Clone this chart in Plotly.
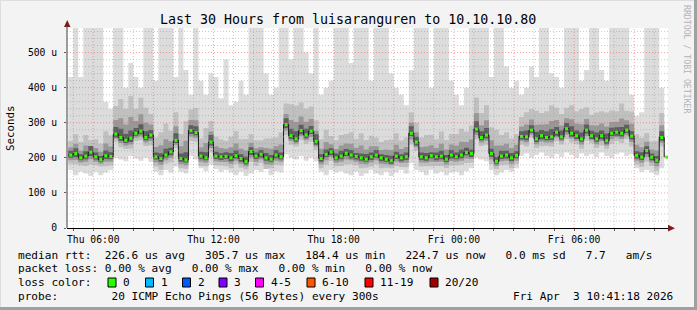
import plotly.graph_objects as go
import pandas as pd

# ---------------- data ----------------
start = "2026-04-02 04:45"
step = "15min"

median_rtt = [208,212,200,205,216,203,195,206,204,268,
              258,250,256,270,276,258,265,203,198,208,
              217,250,198,194,278,272,205,200,245,205,
              203,204,200,206,198,189,218,205,210,200,
              196,208,203,295,263,254,278,265,276,247,
              198,210,217,200,205,213,208,204,200,196,
              203,208,200,196,192,205,200,203,270,245,
              203,200,206,203,205,196,208,203,208,215,
              212,282,258,265,212,190,205,208,200,207,
              261,260,279,254,263,258,260,273,260,283,
              270,263,254,279,263,254,263,249,270,273,
              270,279,262,207,202,221,202,193,258,202]

smoke_max = [430,575,430,575,575,575,575,360,340,575,
             575,400,470,430,400,575,575,420,575,575,
             575,430,575,450,380,575,420,380,440,430,
             370,480,350,360,420,380,575,575,575,440,
             380,400,575,575,480,575,575,500,440,575,
             380,400,420,575,575,575,470,575,575,575,
             420,575,575,575,440,400,380,350,450,575,
             575,575,400,575,575,575,420,380,350,400,
             575,575,575,575,430,575,575,460,400,420,
             380,400,460,430,575,575,440,430,400,575,
             575,575,420,450,575,575,450,420,575,575,
             575,575,380,320,330,575,575,575,400,310]

smoke_min = [165,150,160,155,148,160,150,158,165,200,
             195,190,205,198,192,200,188,160,150,165,
             158,175,160,155,205,195,170,162,180,168,
             160,165,158,150,160,148,155,165,160,170,
             150,162,158,210,200,195,205,192,200,190,
             160,150,165,158,162,155,150,160,148,155,
             165,155,150,160,148,158,165,155,185,165,
             160,150,165,155,160,150,158,160,150,162,
             170,200,195,190,165,150,158,165,160,170,
             205,212,200,208,215,205,200,210,202,215,
             208,200,212,205,210,202,215,205,200,210,
             215,205,210,170,160,165,158,150,170,165]

mid_up = [40,55,45,60,35,50,45,70,60,80,
          110,90,120,70,95,85,60,55,75,90,
          60,80,70,110,60,70,50,85,60,55,
          50,45,60,70,55,65,50,45,40,55,
          60,50,70,60,90,95,80,75,70,60,
          55,70,45,50,60,55,65,50,70,55,
          60,50,45,55,60,65,50,55,60,55,
          55,65,60,50,70,55,60,65,75,60,
          80,90,70,85,75,90,60,65,55,60,
          55,70,60,80,65,75,90,70,65,60,
          80,70,85,65,60,75,70,80,65,60,
          85,55,70,60,55,50,45,55,70,50]

mid_dn = [25,30,22,28,35,24,20,30,26,22,
          28,25,30,22,26,24,30,28,32,25,
          30,22,28,25,30,26,28,24,30,26,
          25,28,30,24,26,22,30,28,25,32,
          26,28,24,30,26,22,28,25,30,24,
          28,30,26,24,28,32,26,25,30,24,
          28,26,30,24,22,28,26,30,32,25,
          28,24,30,26,28,25,30,24,28,30,
          26,30,24,28,30,22,26,28,30,25,
          24,28,22,26,30,24,28,26,22,30,
          26,24,28,30,22,26,28,24,30,26,
          28,25,30,26,28,32,25,30,26,28]

inner_up = [22,28,20,30,18,25,22,35,28,40,
            55,45,60,35,48,42,30,28,38,45,
            30,40,35,55,30,35,25,42,30,28,
            25,22,30,35,28,32,25,22,20,28,
            30,25,35,30,45,48,40,38,35,30,
            28,35,22,25,30,28,32,25,35,28,
            30,25,22,28,30,32,25,28,30,28,
            28,32,30,25,35,28,30,32,38,30,
            40,45,35,42,38,45,30,32,28,30,
            28,35,30,40,32,38,45,35,32,30,
            40,35,42,32,30,38,35,40,32,30,
            42,28,35,30,28,25,22,28,35,25]

inner_dn = [15,18,13,16,20,14,12,17,15,13,
            16,15,18,13,15,14,17,16,18,15,
            17,13,16,15,17,15,16,14,17,15,
            15,16,17,14,15,13,17,16,15,18,
            15,16,14,17,15,13,16,15,17,14,
            16,17,15,14,16,18,15,15,17,14,
            16,15,17,14,13,16,15,17,18,15,
            16,14,17,15,16,15,17,14,16,17,
            15,17,14,16,17,13,15,16,17,15,
            14,16,13,15,17,14,16,15,13,17,
            15,14,16,17,13,15,16,14,17,15,
            16,15,17,15,16,18,15,17,15,16]

core_up = [12,15,10,14,18,12,10,15,12,20,
           25,18,22,15,20,18,14,12,15,18,
           12,20,14,22,15,18,12,16,20,12,
           10,12,14,15,12,14,12,10,12,14,
           12,14,12,18,20,22,16,18,15,20,
           12,14,10,12,15,12,14,10,12,15,
           12,14,10,12,14,12,10,12,20,15,
           12,14,10,12,15,12,14,12,15,14,
           12,22,18,20,14,12,15,12,14,12,
           15,18,14,20,16,18,22,15,18,16,
           20,15,18,16,14,18,15,20,16,14,
           18,15,14,12,14,12,10,12,18,12]

core_dn = [8,10,7,9,11,8,6,9,8,10,
           9,8,11,7,9,8,10,8,9,7,
           10,8,9,7,10,8,9,7,10,8,
           9,7,10,8,9,7,10,8,9,8,
           7,9,8,10,9,8,11,9,8,10,
           9,8,10,7,9,8,10,9,8,7,
           9,8,10,7,9,8,10,9,8,10,
           9,8,7,10,9,8,10,7,9,8,
           10,9,8,10,9,7,8,10,9,8,
           9,10,8,9,11,8,9,10,8,9,
           10,9,8,10,9,8,10,9,8,10,
           9,8,10,9,8,10,9,8,9,8]

y_ticks = [0, 100, 200, 300, 400, 500]
y_ticktext = ["0", "100 u", "200 u", "300 u", "400 u", "500 u"]
x_ticks = ["2026-04-02 06:00", "2026-04-02 12:00", "2026-04-02 18:00",
           "2026-04-03 00:00", "2026-04-03 06:00"]
x_ticktext = ["Thu 06:00", "Thu 12:00", "Thu 18:00", "Fri 00:00", "Fri 06:00"]
x_range = ["2026-04-02 04:41:18", "2026-04-03 10:41:18"]
y_max = 570

title = "Last 30 Hours from luisaranguren to 10.10.10.80"
line_rtt = "median rtt:  226.6 us avg   305.7 us max   184.4 us min   224.7 us now   0.0 ms sd   7.7   am/s"
line_loss = "packet loss: 0.00 % avg   0.00 % max   0.00 % min   0.00 % now"
loss_head = "loss color:"
loss_labels = ["0", "1", "2", "3", "4-5", "6-10", "11-19", "20/20"]
loss_colors = ["#26ff00", "#00b8ff", "#0059ff", "#7e00ff", "#ff00ff", "#ff5500", "#ff0000", "#a10000"]
probe_text = "probe:        20 ICMP Echo Pings (56 Bytes) every 300s"
stamp_text = "Fri Apr  3 10:41:18 2026"

# ---------------- geometry ----------------
W, H = 697, 310
L, R, T, B = 67, 29, 28, 82
PW, PH = W - L - R, H - T - B


def px(x):
    return (x - L) / PW


def py(y):
    return (H - B - y) / PH


def nb(s):
    return s.replace(" ", "\u00a0")


MONO = "DejaVu Sans Mono"
times = pd.date_range(start, periods=len(median_rtt), freq=step)
centers = times + pd.Timedelta(minutes=7.5)

fig = go.Figure()


def band(lo, hi, color):
    fig.add_trace(go.Scatter(x=times, y=lo, mode="lines", line=dict(width=0, shape="hv"),
                             hoverinfo="skip", showlegend=False))
    fig.add_trace(go.Scatter(x=times, y=hi, mode="lines", line=dict(width=0, shape="hv"),
                             fill="tonexty", fillcolor=color, hoverinfo="skip", showlegend=False))


def around(up, dn):
    return ([m - d for m, d in zip(median_rtt, dn)], [m + u for m, u in zip(median_rtt, up)])


band(smoke_min, smoke_max, "#dcdcdc")
band(*around(mid_up, mid_dn), "#c0c0c0")
band(*around(inner_up, inner_dn), "#989898")
band(*around(core_up, core_dn), "#5e5e5e")

fig.add_trace(go.Scatter(x=times, y=median_rtt, mode="lines",
                         line=dict(color="#1a1a1a", width=1, shape="hv"), showlegend=False))
fig.add_trace(go.Scatter(x=centers, y=median_rtt, mode="markers",
                         marker=dict(symbol="square", size=3, color="#33ff00", line=dict(width=0)),
                         showlegend=False))

shapes = []
# grid on top (rrdtool style)
hours = pd.date_range("2026-04-02 05:00", "2026-04-03 10:00", freq="1h")
for hr in hours:
    major = hr.hour % 3 == 0
    shapes.append(dict(type="line", xref="x", yref="paper", x0=hr, x1=hr, y0=0, y1=1, layer="above",
                       line=dict(color="rgba(255,80,80,0.55)" if major else "rgba(150,150,150,0.5)",
                                 width=1, dash="1px,2px")))
for v in range(20, y_max, 20):
    major = v % 100 == 0
    shapes.append(dict(type="line", xref="paper", yref="y", x0=0, x1=1, y0=v, y1=v, layer="above",
                       line=dict(color="rgba(255,80,80,0.55)" if major else "rgba(150,150,150,0.5)",
                                 width=1, dash="1px,2px")))

# axis arrows
arrow = "#7f1d1d"
shapes.append(dict(type="path", xref="paper", yref="paper", layer="above",
                   path=f"M {px(64)},{py(27)} L {px(70.5)},{py(27)} L {px(67.2)},{py(20)} Z",
                   fillcolor=arrow, line=dict(width=0)))
shapes.append(dict(type="path", xref="paper", yref="paper", layer="above",
                   path=f"M {px(668)},{py(224.8)} L {px(668)},{py(231.5)} L {px(675)},{py(228.2)} Z",
                   fillcolor=arrow, line=dict(width=0)))
shapes.append(dict(type="line", xref="paper", yref="paper", layer="above",
                   x0=px(67), x1=px(67), y0=py(228), y1=py(26), line=dict(color="#404040", width=1)))

# frame
shapes.append(dict(type="line", xref="paper", yref="paper", x0=px(0), x1=px(697), y0=py(0.5), y1=py(0.5),
                   line=dict(color="#dddddd", width=1)))
shapes.append(dict(type="line", xref="paper", yref="paper", x0=px(0.5), x1=px(0.5), y0=py(0), y1=py(310),
                   line=dict(color="#dddddd", width=1)))
shapes.append(dict(type="line", xref="paper", yref="paper", x0=px(695.5), x1=px(695.5), y0=py(0), y1=py(310),
                   line=dict(color="#a0a0a0", width=3)))
shapes.append(dict(type="line", xref="paper", yref="paper", x0=px(0), x1=px(697), y0=py(308.5), y1=py(308.5),
                   line=dict(color="#a0a0a0", width=3)))

# loss colour boxes
box_x = [108, 145.5, 182.5, 219, 255.5, 307, 365, 430]
for bx, col in zip(box_x, loss_colors):
    shapes.append(dict(type="rect", xref="paper", yref="paper", x0=px(bx), x1=px(bx + 8),
                       y0=py(287), y1=py(278), fillcolor=col, line=dict(color="black", width=1)))

ann = []


def text(x, y, s, size=11.1, anchor="left", color="black", angle=0, yanchor="middle"):
    ann.append(dict(x=px(x), y=py(y), xref="paper", yref="paper", text=nb(s), showarrow=False,
                    xanchor=anchor, yanchor=yanchor, textangle=angle, borderpad=0,
                    font=dict(family=MONO, size=size, color=color)))


text(348, 19, title, size=13.3, anchor="center")
text(17, 255, line_rtt)
text(17, 268.5, line_loss)
text(17, 282.5, loss_head)
for bx, lab in zip(box_x, loss_labels):
    text(bx + 14, 282.5, lab)
text(17, 296, probe_text)
text(512, 296, stamp_text)
text(10, 128, "Seconds", size=10.8, anchor="center", angle=-90)
text(687, 59, "RRDTOOL / TOBI OETIKER", size=8.2, anchor="center", color="#b4b4b4", angle=90)

fig.update_layout(
    width=W, height=H, margin=dict(l=L, r=R, t=T, b=B, pad=0),
    paper_bgcolor="#f3f3f3", plot_bgcolor="#ffffff",
    showlegend=False, shapes=shapes, annotations=ann,
    font=dict(family=MONO, size=9.7, color="black"),
)
fig.update_xaxes(type="date", range=x_range, tickvals=x_ticks, ticktext=x_ticktext,
                 showgrid=False, zeroline=False, showline=True, linecolor="#000000", linewidth=1,
                 ticks="outside", ticklen=2, tickcolor="#606060",
                 tickfont=dict(family=MONO, size=9.7, color="black"),
                 minor=dict(dtick=3600000, ticks="outside", ticklen=2, tickcolor="#606060", showgrid=False),
                 fixedrange=True)
fig.update_yaxes(range=[0, y_max], tickvals=y_ticks, ticktext=y_ticktext,
                 showgrid=False, zeroline=False, showline=False,
                 ticks="outside", ticklen=2, tickcolor="#606060", ticklabelstandoff=5,
                 tickfont=dict(family=MONO, size=9.7, color="black"),
                 fixedrange=True)

fig.write_html("out.html")
